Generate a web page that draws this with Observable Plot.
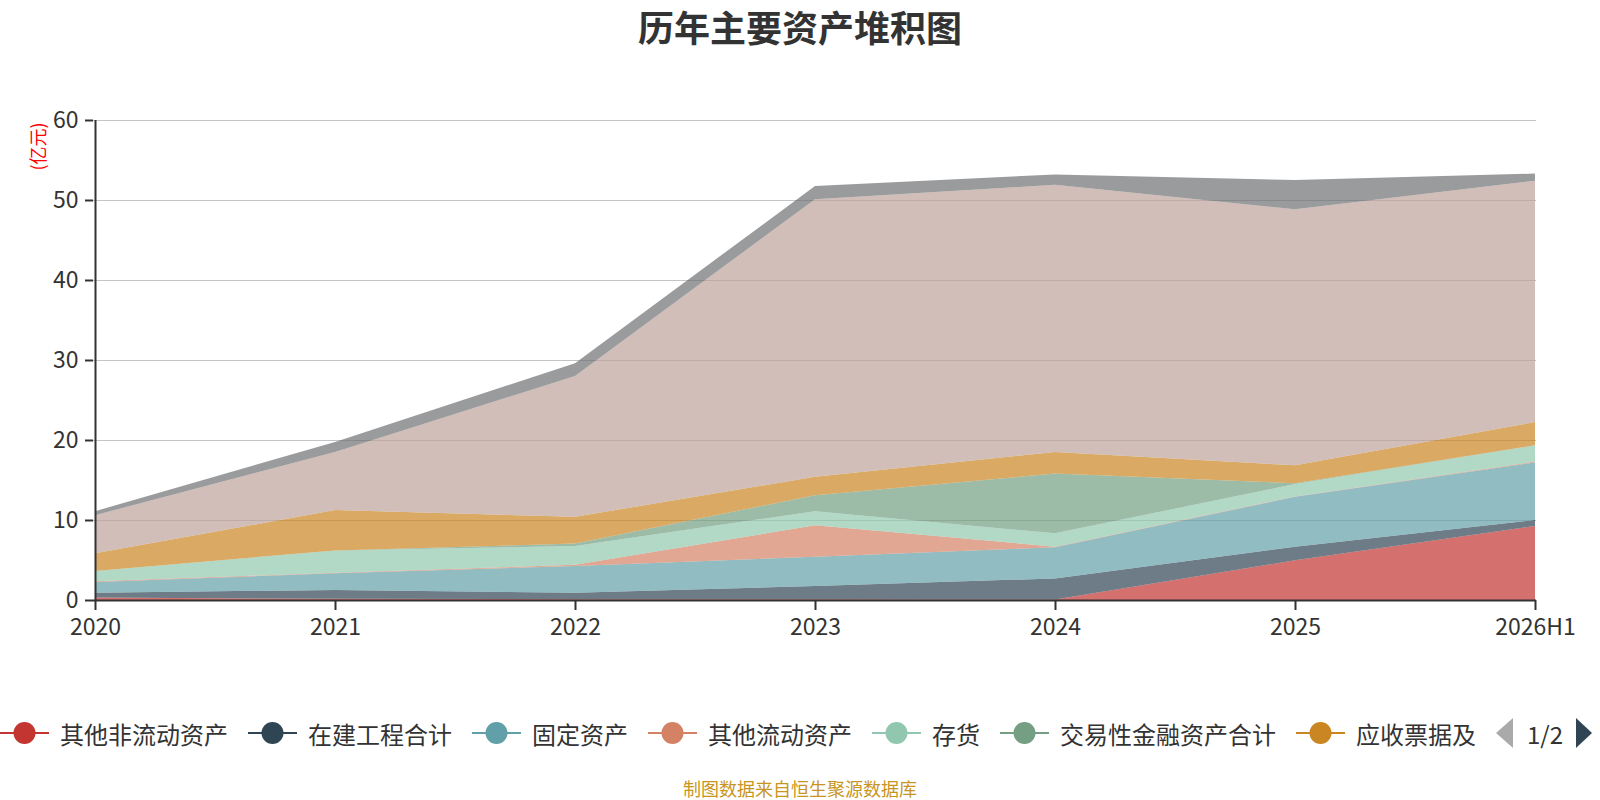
<!DOCTYPE html>
<html>
<head>
<meta charset="utf-8">
<script src="https://cdn.jsdelivr.net/npm/d3@7"></script>
<script src="https://cdn.jsdelivr.net/npm/@observablehq/plot@0.6"></script>
<style>
  html, body { margin: 0; padding: 0; background: #fff; }
  body { width: 1600px; height: 800px; overflow: hidden; font-family: "Noto Sans CJK SC", "Noto Sans", sans-serif; }
  #title { height: 60px; line-height: 52px; text-align: center; font-size: 36px; font-weight: bold; color: #333; }
  #chart svg { display: block; }
  #legend { margin-top: 53px; height: 40px; width: 1600px; display: flex; flex-wrap: nowrap; align-items: center; font-size: 24px; color: #333; white-space: nowrap; }
  .item { display: flex; align-items: center; margin-right: 20px; flex-shrink: 0; }
  .icon { width: 49px; height: 24px; margin-right: 11px; flex-shrink: 0; }
  .pager { display: flex; align-items: center; margin-left: -1px; flex-shrink: 0; }
  #caption { margin-top: 23px; height: 24px; line-height: 24px; text-align: center; font-size: 18px; color: #c8951f; }
</style>
</head>
<body>
<div id="title">历年主要资产堆积图</div>
<div id="chart"></div>
<div id="legend"></div>
<div id="caption">制图数据来自恒生聚源数据库</div>
<script>
const years = ["2020", "2021", "2022", "2023", "2024", "2025", "2026H1"];
const seriesNames = ["其他非流动资产", "在建工程合计", "固定资产", "其他流动资产", "存货", "交易性金融资产合计", "应收票据及应收账款", "货币资金", "其他资产"];
const colors = ["#c23531", "#2f4554", "#61a0a8", "#d48265", "#91c7ae", "#749f83", "#ca8622", "#bda29a", "#6e7074"];
const legendShown = ["其他非流动资产", "在建工程合计", "固定资产", "其他流动资产", "存货", "交易性金融资产合计", "应收票据及"];
const yTicks = [0, 10, 20, 30, 40, 50, 60];

const otherNonCurrent = [0.3, 0.15, 0.1, 0.1, 0.05, 4.96, 9.25];
const construction    = [0.62, 1.1, 0.8, 1.65, 2.65, 1.71, 0.75];
const fixedAssets     = [1.33, 2.08, 3.35, 3.65, 3.9, 6.23, 7.2];
const otherCurrent    = [0.08, 0.07, 0.15, 3.93, 0.07, 0.05, 0.1];
const inventory       = [1.3, 2.8, 2.35, 1.77, 1.66, 1.55, 2.03];
const tradingAssets   = [0.0, 0.0, 0.3, 2.0, 7.47, 0.1, 0.02];
const receivables     = [2.2, 5.05, 3.35, 2.3, 2.7, 2.23, 2.9];
const cash            = [4.77, 7.25, 17.6, 34.7, 33.4, 32.0, 30.15];
const otherAssets     = [0.5, 1.25, 1.6, 1.65, 1.3, 3.66, 0.9];

const seriesValues = [otherNonCurrent, construction, fixedAssets, otherCurrent, inventory, tradingAssets, receivables, cash, otherAssets];

const data = [];
seriesNames.forEach((s, i) => {
  years.forEach((y, j) => data.push({year: y, series: s, value: seriesValues[i][j]}));
});

const chart = Plot.plot({
  width: 1600,
  height: 600,
  marginTop: 60,
  marginBottom: 60,
  marginLeft: 93,
  marginRight: 64,
  style: {fontFamily: '"Noto Sans CJK SC", "Noto Sans", sans-serif', color: "#333", background: "#fff"},
  x: {type: "point", domain: years, padding: 0},
  y: {domain: [0, 60]},
  color: {domain: seriesNames, range: colors},
  marks: [
    Plot.gridY(yTicks.filter(d => d > 0), {stroke: "#c4c4c4", strokeOpacity: 1, strokeWidth: 1.2}),
    Plot.areaY(data, {x: "year", y: "value", z: "series", fill: "series", order: seriesNames, fillOpacity: 0.7, curve: "linear"}),
    Plot.axisY(yTicks, {tickSize: 8, tickPadding: 7, fontSize: 23, fill: "#333", stroke: "#333", strokeWidth: 2, label: null}),
    Plot.axisX(years, {tickSize: 10, tickPadding: 8, fontSize: 23, fill: "#333", stroke: "#333", strokeWidth: 2, label: null}),
    Plot.ruleY([0], {stroke: "#333", strokeWidth: 2}),
    Plot.ruleX([years[0]], {stroke: "#333", strokeWidth: 2}),
    Plot.text(["(亿元)"], {frameAnchor: "top-left", dx: -61, dy: 26, rotate: -90, fill: "red", fontSize: 18, textAnchor: "middle"})
  ]
});
document.getElementById("chart").appendChild(chart);

const legend = document.getElementById("legend");
legendShown.forEach((name, i) => {
  const item = document.createElement("div");
  item.className = "item";
  item.innerHTML = `<svg class="icon" viewBox="0 0 49 24"><line x1="0" y1="12" x2="49" y2="12" stroke="${colors[i]}" stroke-width="2"/><circle cx="24.5" cy="12" r="11" fill="${colors[i]}"/></svg><span>${name}</span>`;
  legend.appendChild(item);
});
const pager = document.createElement("div");
pager.className = "pager";
pager.innerHTML = `<svg width="20" height="32" viewBox="0 0 20 32"><polygon points="18,1 18,31 1,16" fill="#aaa"/></svg><span style="margin:0 12px 0 12px;">1/2</span><svg width="18" height="32" viewBox="0 0 18 32"><polygon points="1,1 1,31 17,16" fill="#2f4554"/></svg>`;
legend.appendChild(pager);
</script>
</body>
</html>
